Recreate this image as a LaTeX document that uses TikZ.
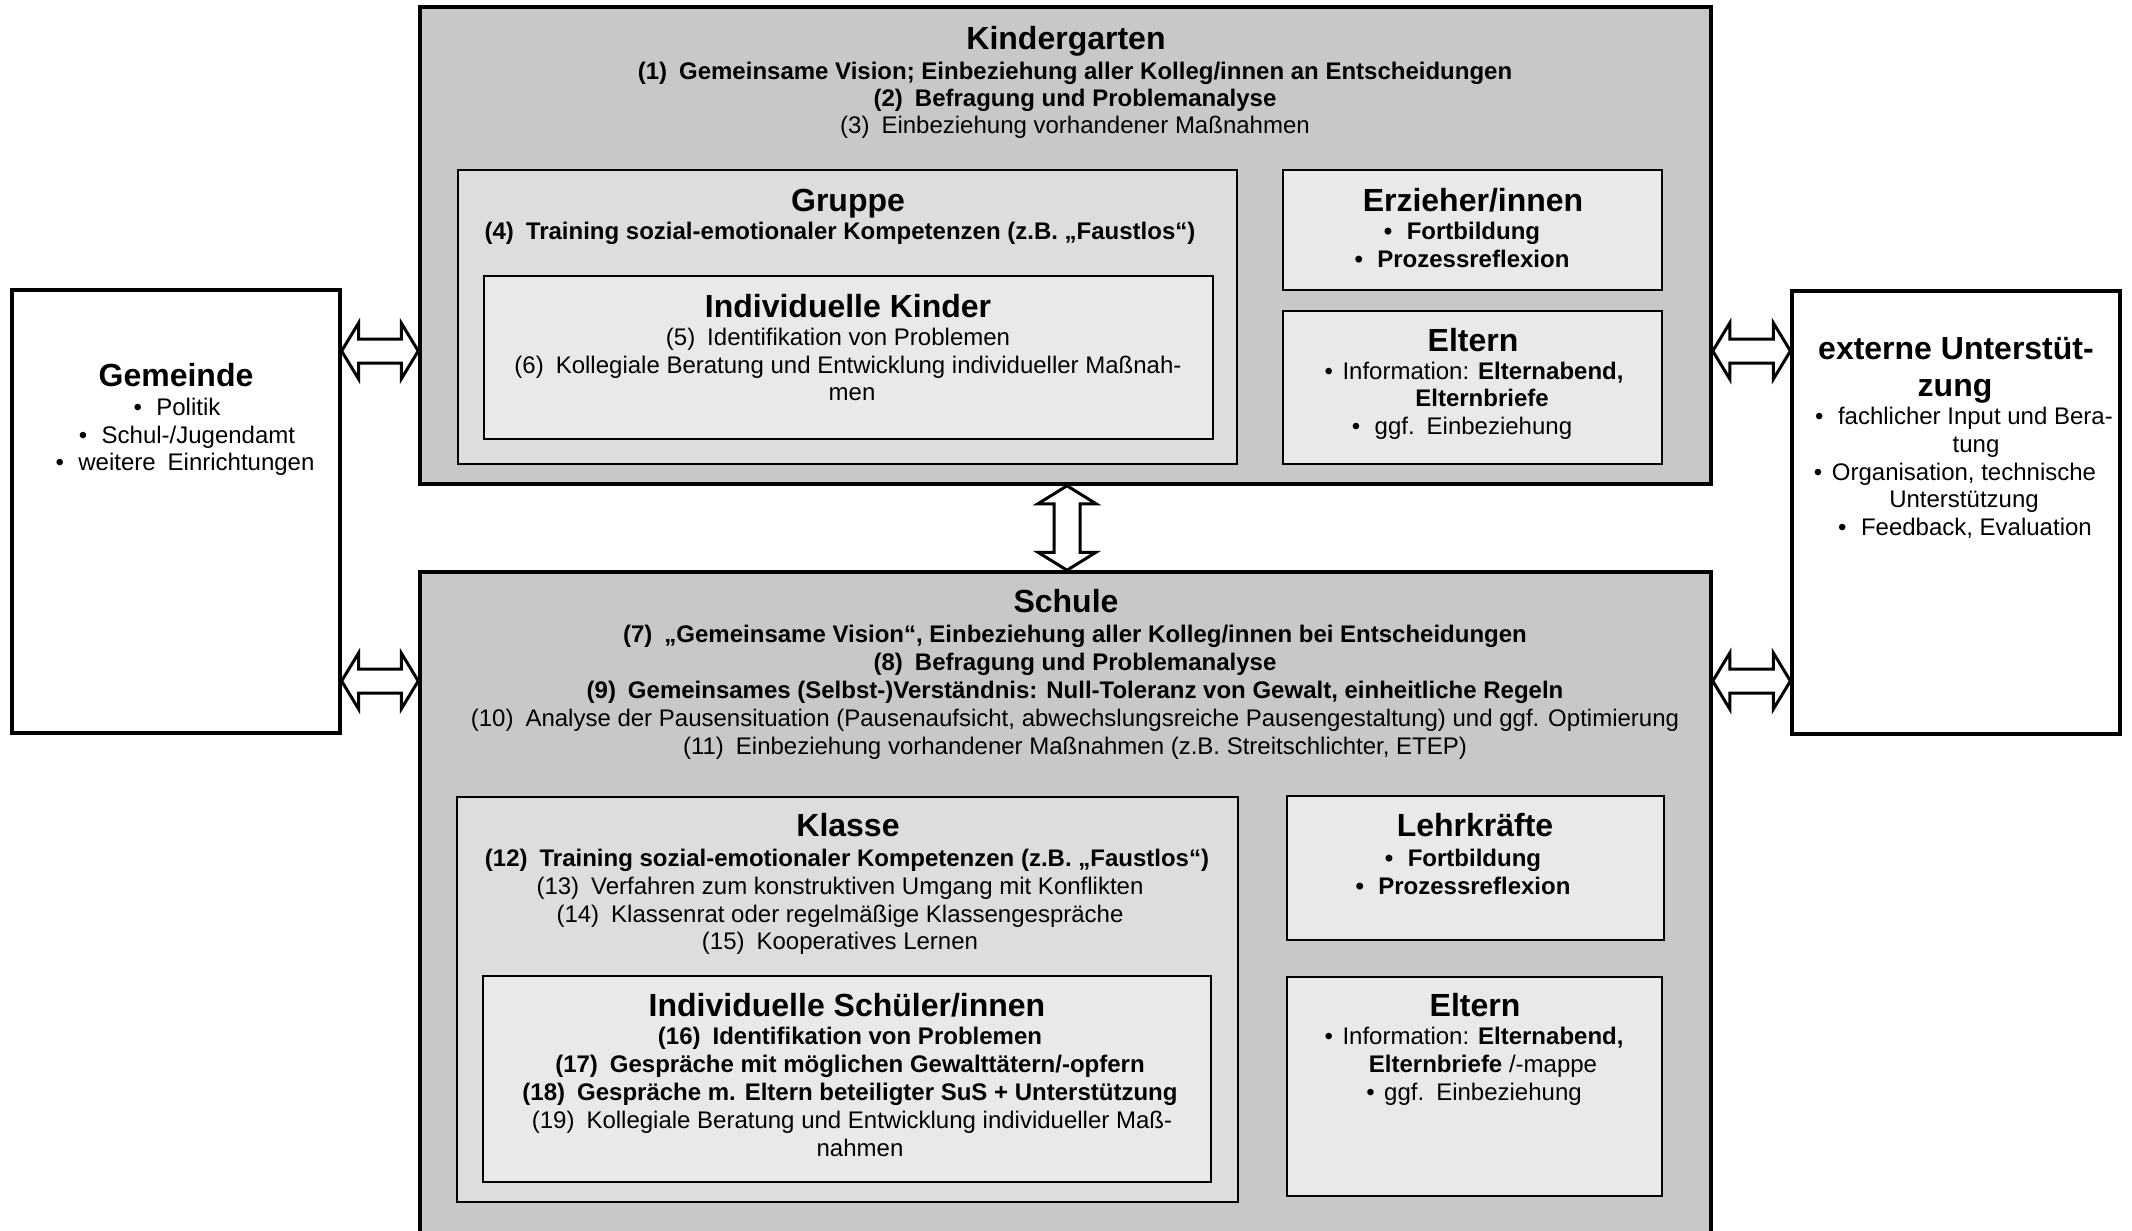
\documentclass[tikz,border=0pt]{standalone}
\usepackage{fontspec}
\setmainfont{Liberation Sans}
\usetikzlibrary{fit,calc}
\definecolor{outerfill}{RGB}{200,200,200}
\definecolor{midfill}{RGB}{221,221,221}
\definecolor{innerfill}{RGB}{233,233,233}
\tikzset{
  outerbox/.style={draw=black, line width=1.75pt, fill=outerfill, inner sep=0pt},
  sidebox/.style={draw=black, line width=1.6pt, fill=white, inner sep=0pt},
  midbox/.style={draw=black, line width=1pt, fill=midfill, inner sep=0pt},
  innerbox/.style={draw=black, line width=1pt, fill=innerfill, inner sep=0pt},
  body/.style={anchor=base, inner sep=0pt, font=\fontsize{12}{14}\selectfont},
  bodyb/.style={anchor=base, inner sep=0pt, font=\fontsize{12}{14}\selectfont\bfseries},
  ttl/.style={anchor=base, inner sep=0pt, font=\fontsize{16}{19}\selectfont\bfseries},
  blockarrow/.style={draw=black, line width=1.5pt, fill=white, line join=miter},
}
\newcommand\harrow[2]{%
  \draw[blockarrow] (#1) -- ($(#1)+(17,-28)$) -- ($(#1)+(17,-12)$) -- ($(#2)+(-17,-12)$)
    -- ($(#2)+(-17,-28)$) -- (#2) -- ($(#2)+(-17,28)$) -- ($(#2)+(-17,12)$)
    -- ($(#1)+(17,12)$) -- ($(#1)+(17,28)$) -- cycle;}
\newcommand\varrow[2]{%
  \draw[blockarrow] (#1) -- ($(#1)+(29,18)$) -- ($(#1)+(13,18)$) -- ($(#2)+(13,-18)$)
    -- ($(#2)+(29,-18)$) -- (#2) -- ($(#2)+(-29,-18)$) -- ($(#2)+(-13,-18)$)
    -- ($(#1)+(-13,18)$) -- ($(#1)+(-29,18)$) -- cycle;}
\newcommand\bul{\textbullet\hspace{0.6em}}
\newcommand\num[1]{(#1)\hspace{0.5em}}
\begin{document}
\begin{tikzpicture}[x=0.5pt,y=-0.5pt]
\useasboundingbox (0,0) rectangle (2132,1231);
\clip (0,0) rectangle (2132,1231);
\fill[white] (0,0) rectangle (2132,1231);

% side boxes
\node[sidebox, fit={(12,290) (340,733)}] (gem) {};
\node[sidebox, fit={(1792,291) (2120,734)}] (ext) {};

% Kindergarten
\node[outerbox, fit={(420,7) (1711,484)}] (kg) {};
\node[midbox, fit={(458,170) (1237,464)}] (gruppe) {};
\node[innerbox, fit={(484,276) (1213,439)}] (indk) {};
\node[innerbox, fit={(1283,170) (1662,290)}] (erz) {};
\node[innerbox, fit={(1283,311) (1662,464)}] (eltk) {};

% Schule
\node[outerbox, fit={(420,572) (1711,1262)}] (schule) {};
\node[midbox, fit={(457,797) (1238,1202)}] (klasse) {};
\node[innerbox, fit={(483,976) (1211,1182)}] (inds) {};
\node[innerbox, fit={(1287,796) (1664,940)}] (lehr) {};
\node[innerbox, fit={(1287,977) (1662,1196)}] (elts) {};

% Kindergarten texts
\node[ttl] (kgT) at (1066,49) {Kindergarten};
\node[bodyb] (kg1) at (1075,79) {\num{1}Gemeinsame Vision; Einbeziehung aller Kolleg/innen an Entscheidungen};
\node[bodyb] (kg2) at (1075,106) {\num{2}Befragung und Problemanalyse};
\node[body] (kg3) at (1075,133) {\num{3}Einbeziehung vorhandener Maßnahmen};

\node[ttl] (grT) at (848,211) {Gruppe};
\node[bodyb] (gr4) at (840,239) {\num{4}Training sozial-emotionaler Kompetenzen (z.B. „Faustlos“)};
\node[ttl] (ikT) at (848,317) {Individuelle Kinder};
\node[body] (ik5) at (838,345) {\num{5}Identifikation von Problemen};
\node[body] (ik6) at (848,373) {\num{6}Kollegiale Beratung und Entwicklung individueller Maßnah-};
\node[body] (ik6b) at (852,400) {men};

\node[ttl] (erT) at (1473,211) {Erzieher/innen};
\node[bodyb] (er1) at (1462,239) {\bul Fortbildung};
\node[bodyb] (er2) at (1462,267) {\bul Prozessreflexion};

\node[ttl] (ekT) at (1473,351) {Eltern};
\node[body] (ek1) at (1474,379) {\textbullet\hspace{0.4em}Information: \textbf{Elternabend,}};
\node[bodyb] (ek1b) at (1482,406) {Elternbriefe};
\node[body] (ek2) at (1462,434) {\bul ggf.\hspace{0.5em}Einbeziehung};

% Gemeinde texts
\node[ttl] (gmT) at (176,386) {Gemeinde};
\node[body] (gm1) at (177,415) {\bul Politik};
\node[body] (gm2) at (187,443) {\bul Schul-/Jugendamt};
\node[body] (gm3) at (185,470) {\bul weitere\hspace{0.5em}Einrichtungen};

% externe Unterstuetzung texts
\node[ttl] (exT) at (1956,359) {externe Unterstüt-};
\node[ttl] (exTb) at (1955,396) {zung};
\node[body] (ex1) at (1964,424) {\bul fachlicher Input und Bera-};
\node[body] (ex1b) at (1976,452) {tung};
\node[body] (ex2) at (1955,480) {\textbullet\hspace{0.4em}Organisation, technische};
\node[body] (ex2b) at (1964,507) {Unterstützung};
\node[body] (ex3) at (1965,535) {\bul Feedback, Evaluation};

% Schule texts
\node[ttl] (scT) at (1066,612) {Schule};
\node[bodyb] (sc7) at (1075,642) {\num{7}„Gemeinsame Vision“, Einbeziehung aller Kolleg/innen bei Entscheidungen};
\node[bodyb] (sc8) at (1075,670) {\num{8}Befragung und Problemanalyse};
\node[bodyb] (sc9) at (1075,698) {\num{9}Gemeinsames (Selbst-)Verständnis: Null-Toleranz von Gewalt, einheitliche Regeln};
\node[body] (sc10) at (1075,726) {\num{10}Analyse der Pausensituation (Pausenaufsicht, abwechslungsreiche Pausengestaltung) und ggf. Optimierung};
\node[body] (sc11) at (1075,754) {\num{11}Einbeziehung vorhandener Maßnahmen (z.B. Streitschlichter, ETEP)};

\node[ttl] (klT) at (848,836) {Klasse};
\node[bodyb] (kl12) at (847,866) {\num{12}Training sozial-emotionaler Kompetenzen (z.B. „Faustlos“)};
\node[body] (kl13) at (840,894) {\num{13}Verfahren zum konstruktiven Umgang mit Konflikten};
\node[body] (kl14) at (840,922) {\num{14}Klassenrat oder regelmäßige Klassengespräche};
\node[body] (kl15) at (840,949) {\num{15}Kooperatives Lernen};

\node[ttl] (isT) at (847,1016) {Individuelle Schüler/innen};
\node[bodyb] (is16) at (850,1044) {\num{16}Identifikation von Problemen};
\node[bodyb] (is17) at (850,1072) {\num{17}Gespräche mit möglichen Gewalttätern/-opfern};
\node[bodyb] (is18) at (850,1100) {\num{18}Gespräche m. Eltern beteiligter SuS + Unterstützung};
\node[body] (is19) at (852,1128) {\num{19}Kollegiale Beratung und Entwicklung individueller Maß-};
\node[body] (is19b) at (860,1156) {nahmen};

\node[ttl] (lkT) at (1475,836) {Lehrkräfte};
\node[bodyb] (lk1) at (1463,866) {\bul Fortbildung};
\node[bodyb] (lk2) at (1463,894) {\bul Prozessreflexion};

\node[ttl] (esT) at (1475,1016) {Eltern};
\node[body] (es1) at (1474,1044) {\textbullet\hspace{0.4em}Information: \textbf{Elternabend,}};
\node[body] (es1b) at (1483,1072) {\textbf{Elternbriefe} /-mappe};
\node[body] (es2) at (1474,1100) {\textbullet\hspace{0.4em}ggf.\hspace{0.5em}Einbeziehung};

% connectors (block double arrows)
\coordinate (yU) at (0,351);
\coordinate (yL) at (0,681);
\coordinate (xV) at (1067,0);
\coordinate (a1) at (gem.east |- yU);
\coordinate (b1) at (kg.west |- yU);
\coordinate (a2) at (gem.east |- yL);
\coordinate (b2) at (schule.west |- yL);
\coordinate (a3) at (kg.east |- yU);
\coordinate (b3) at (ext.west |- yU);
\coordinate (a4) at (schule.east |- yL);
\coordinate (b4) at (ext.west |- yL);
\coordinate (v1) at (kg.south -| xV);
\coordinate (v2) at (schule.north -| xV);
\harrow{a1}{b1}
\harrow{a2}{b2}
\harrow{a3}{b3}
\harrow{a4}{b4}
\varrow{v1}{v2}
\end{tikzpicture}
\end{document}
